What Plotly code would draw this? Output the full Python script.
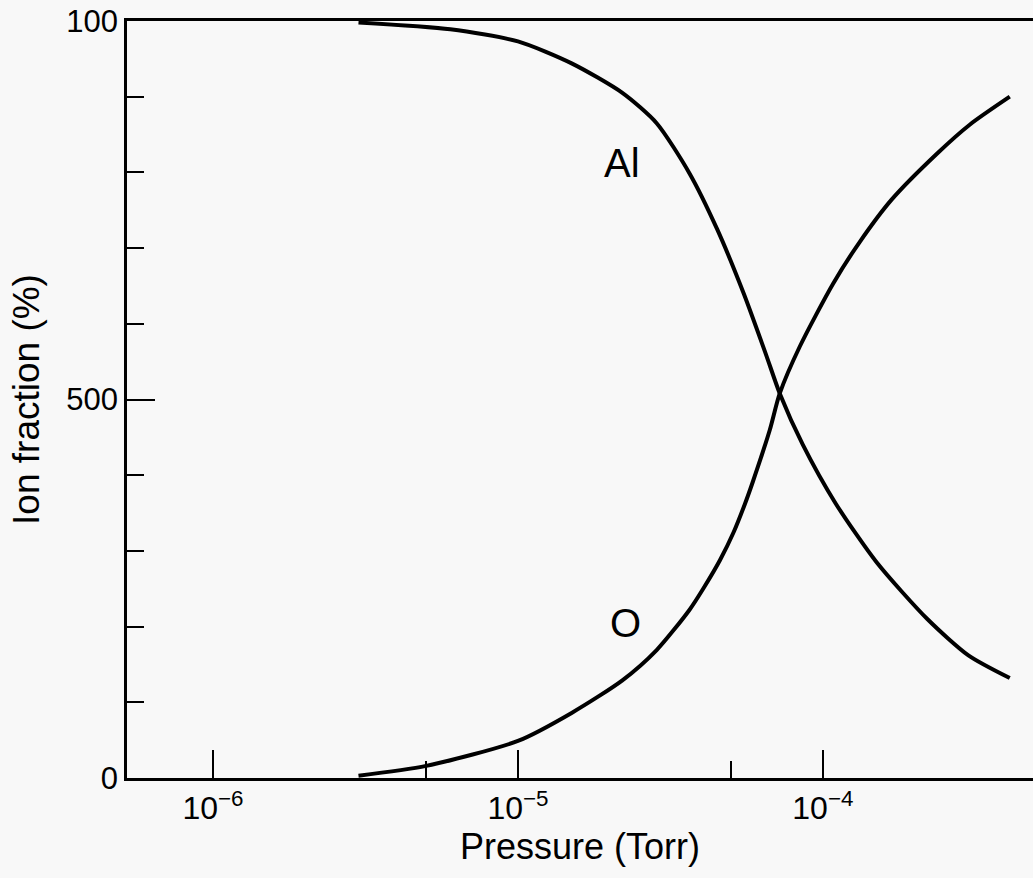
import math
import plotly.graph_objects as go

# Data
al_pressure = [3.0e-6, 6.0e-6, 1.0e-5, 1.5e-5, 2.2e-5, 2.85e-5, 3.65e-5, 4.5e-5, 5.5e-5,
               6.5e-5, 7.22e-5, 8.6e-5, 1.1e-4, 1.5e-4, 2.2e-4, 3.0e-4, 4.1e-4]
al_fraction = [99.8, 98.9, 97.3, 94.4, 90.5, 86.5, 79.9, 72.5, 64.0,
               56.0, 50.8, 44.0, 36.3, 28.5, 21.0, 16.2, 13.2]

o_pressure = [3.0e-6, 5.0e-6, 1.0e-5, 1.5e-5, 2.2e-5, 2.85e-5, 3.65e-5, 4.05e-5, 4.6e-5, 5.1e-5,
              5.55e-5, 5.9e-5, 6.7e-5, 7.22e-5, 8.4e-5, 1.08e-4, 1.32e-4, 1.68e-4, 2.37e-4, 3.03e-4, 4.1e-4]
o_fraction = [0.3, 1.6, 4.9, 8.6, 12.9, 16.9, 22.2, 25.0, 28.8, 32.5,
              36.2, 39.2, 46.0, 50.8, 57.0, 65.3, 70.8, 76.4, 82.5, 86.3, 90.0]

x_tickvals = [1e-6, 1e-5, 1e-4]
x_ticktext = ["10<sup>−6</sup>", "10<sup>−5</sup>", "10<sup>−4</sup>"]
x_minorvals = [5e-6, 5e-5]
y_tickvals = [0, 50, 100]
y_ticktext = ["0", "500", "100"]

labels = ["Al", "O"]
label_x = [2.2e-5, 2.25e-5]
label_y = [81.2, 20.5]

FONT = "Liberation Sans, Arial, Helvetica, sans-serif"
BG = "#f8f8f8"

fig = go.Figure()
for px, fy in [(al_pressure, al_fraction), (o_pressure, o_fraction)]:
    fig.add_trace(go.Scatter(x=px, y=fy, mode="lines",
                             line=dict(color="black", width=4, shape="spline", smoothing=0.7),
                             showlegend=False, hoverinfo="skip"))

for t, x, y in zip(labels, label_x, label_y):
    fig.add_annotation(x=math.log10(x), y=y, xref="x", yref="y", text=t, showarrow=False,
                       font=dict(family=FONT, size=40, color="black"))

fig.update_layout(
    width=1033, height=878,
    margin=dict(l=127, r=0, t=21, b=100),
    paper_bgcolor=BG, plot_bgcolor=BG,
    font=dict(family=FONT, color="black"),
    xaxis=dict(
        type="log", range=[-6.282, -3.311], automargin=False,
        showgrid=False, zeroline=False,
        showline=True, linecolor="black", linewidth=2.5, mirror=True,
        ticks="inside", ticklen=28, tickwidth=2, tickcolor="black",
        tickvals=x_tickvals, ticktext=x_ticktext,
        tickfont=dict(size=32, family=FONT), ticklabeloverflow="allow",
        minor=dict(tickvals=x_minorvals, ticks="inside", ticklen=17, tickwidth=2,
                   tickcolor="black", showgrid=False),
        title=dict(text="Pressure (Torr)", font=dict(size=36, family=FONT), standoff=2),
    ),
    yaxis=dict(
        range=[0, 100], automargin=False,
        showgrid=False, zeroline=False,
        showline=True, linecolor="black", linewidth=2.5,
        ticks="inside", ticklen=28, tickwidth=2, tickcolor="black",
        tickvals=y_tickvals, ticktext=y_ticktext,
        tickfont=dict(size=31, family=FONT), ticklabeloverflow="allow",
        minor=dict(dtick=10, ticks="inside", ticklen=17, tickwidth=2,
                   tickcolor="black", showgrid=False),
        title=dict(text="Ion fraction (%)", font=dict(size=37, family=FONT), standoff=16),
    ),
)

fig.write_html(
    "out.html",
    config={"displayModeBar": False},
    post_script="document.body.style.margin='0';document.body.style.background='#f8f8f8';",
)
